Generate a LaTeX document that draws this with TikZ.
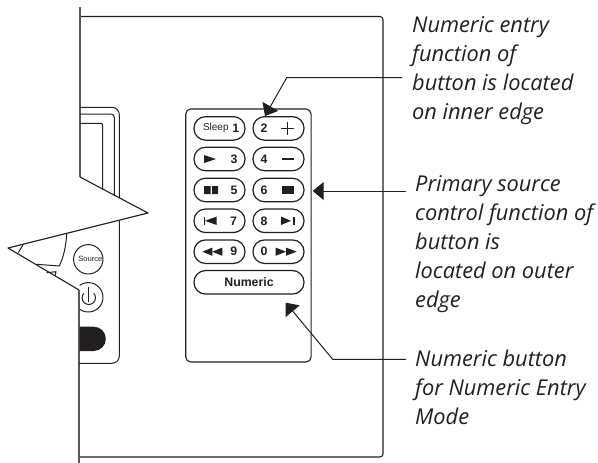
\documentclass[tikz,border=0pt]{standalone}
\usepackage{fontspec}
\setmainfont{Open Sans}
\newfontfamily\btnfont{Liberation Sans}
\usetikzlibrary{arrows.meta}
\definecolor{ink}{HTML}{231F20}
\tikzset{
  x=1pt,y=-1pt,
  panel/.style={draw=ink,line width=1.1pt},
  edgeline/.style={draw=ink!75,line width=1.5pt},
  btn/.style={draw=ink,line width=1.2pt,rounded corners=11.5pt,minimum height=23.5pt,minimum width=51pt,inner sep=0pt,anchor=center},
  btntext/.style={font=\btnfont\bfseries\fontsize{12.3}{12}\selectfont,text=ink,inner sep=0pt},
  icon/.style={fill=ink,draw=none},
  iconline/.style={draw=ink,line width=1.2pt},
  callout/.style={font=\itshape\fontsize{21.8}{29}\selectfont,text=ink,align=left,anchor=north west,inner sep=0pt},
  leader/.style={draw=ink,line width=1pt,-{Triangle[length=11pt,width=18pt]}},
}
\begin{document}
\begin{tikzpicture}[line join=round]
\useasboundingbox (0,0) rectangle (598,463);
% outer panel
\draw[panel] (80,16.5) -- (380,16.5) arc[start angle=-90,end angle=0,radius=3] -- (383,454) arc[start angle=0,end angle=90,radius=3] -- (79,457);
% folded edge
\draw[edgeline] (80,7) -- (80,177);
\draw[panel] (80,177) -- (148,213) -- (8,248) -- (79,290);
\draw[edgeline] (79,290) -- (79,463);
% device edges
\draw[panel,line width=1pt] (80,107.3) -- (112,107.3) arc[start angle=-90,end angle=0,radius=7.3] -- (119.3,198);
\draw[panel,line width=1pt] (80,114) -- (111,114) arc[start angle=-90,end angle=0,radius=3.3] -- (114.3,196);
\draw[panel,line width=1pt] (80,123.3) -- (100.7,123.3) arc[start angle=-90,end angle=0,radius=2] -- (102.7,189.3);
\draw[panel,line width=1pt] (119.3,220.7) -- (119.3,356) arc[start angle=0,end angle=90,radius=7.3] -- (79,363.3);
\draw[panel,line width=1pt] (66.7,233.3) .. controls (66,248) and (63,258) .. (59.3,266) -- (36.7,264.3);
\draw[panel,line width=1pt] (23.3,244.3) -- (18.3,252.7);
\draw[panel,line width=1pt] (46.7,272.7) -- (56,271.7) -- (55,276);
% source and power buttons
\node[draw=ink,line width=1pt,circle,minimum size=29.4pt,inner sep=0pt] (source) at (88.3,259.3) {};
\node[inner sep=0pt,font=\btnfont\fontsize{7.6}{8}\selectfont,text=ink] (sourcetext) at (90.3,259.3) {Source};
\begin{scope}
\clip (79.6,280) rectangle (110,315);
\node[draw=ink,line width=1pt,circle,minimum size=29.4pt,inner sep=0pt] (power) at (88.3,297.3) {};
\end{scope}
\draw[panel,line width=1pt] (88.3,287) -- (88.3,301.7);
\draw[panel,line width=1pt] (83.8,293.3) arc[start angle=222,end angle=-42,radius=6.7];
\fill[ink] (79.6,326.7) -- (93.7,326.7) arc[start angle=-90,end angle=90,radius=12.15] -- (79.6,351) -- cycle;
% remote
\node[draw=ink,line width=1.1pt,rounded corners=5pt,minimum width=125.3pt,minimum height=253pt,inner sep=0pt] (remote) at (248.4,235.5) {};
\node[btn] (b1) at (219.5,128.4) {};
\node[btn] (b2) at (278.5,128.4) {};
\node[btn] (b3) at (219.5,159) {};
\node[btn] (b4) at (278.5,159) {};
\node[btn] (b5) at (219.5,190) {};
\node[btn] (b6) at (278.5,190) {};
\node[btn] (b7) at (219.5,220.8) {};
\node[btn] (b8) at (278.5,220.8) {};
\node[btn] (b9) at (219.5,251.7) {};
\node[btn] (b0) at (278.5,251.7) {};
\node[btn,minimum width=110pt] (num) at (249,282.3) {};
% button labels
\node[btntext,font=\btnfont\fontsize{10}{10}\selectfont] (tsleep) at (215.8,128.4) {Sleep};
\node[btntext] (t1) at (235.7,128.4) {1};
\node[btntext] (t2) at (264,128.4) {2};
\node[btntext] (t3) at (234,159) {3};
\node[btntext] (t4) at (264,159) {4};
\node[btntext] (t5) at (234,190) {5};
\node[btntext] (t6) at (264,190) {6};
\node[btntext] (t7) at (233.5,220.8) {7};
\node[btntext] (t8) at (264,220.8) {8};
\node[btntext] (t9) at (233.7,251.7) {9};
\node[btntext] (t0) at (264,251.7) {0};
\node[btntext] (tnum) at (249,282) {Numeric};
% icons
\draw[iconline] (281,128.4) -- (294.4,128.4) (287.7,121.7) -- (287.7,135.1);
\fill[icon] (204,155) -- (216,159) -- (204,163) -- cycle;
\draw[iconline] (281.7,159) -- (294.3,159);
\fill[icon] (204,186) rectangle (210.7,194) (212,186) rectangle (218,194);
\fill[icon] (281.7,186) rectangle (294.3,194.3);
\draw[iconline] (204.3,216.5) -- (204.3,225);
\fill[icon] (205,220.8) -- (216.7,216.6) -- (216.7,225) -- cycle;
\fill[icon] (281,216.6) -- (291,220.8) -- (281,225) -- cycle;
\draw[iconline] (294,216.5) -- (294,225);
\fill[icon] (202.3,251.7) -- (212.3,247.6) -- (212.3,255.8) -- cycle;
\fill[icon] (212.3,251.7) -- (222.3,247.6) -- (222.3,255.8) -- cycle;
\fill[icon] (275.7,247.6) -- (286,251.7) -- (275.7,255.8) -- cycle;
\fill[icon] (286,247.6) -- (296.7,251.7) -- (286,255.8) -- cycle;
% callouts
\node[callout] (c1) at (412,16) {Numeric entry\\function of\\button is located\\on inner edge};
\node[callout] (c2) at (415,175) {Primary source\\control function of\\button is\\located on outer\\edge};
\node[callout] (c3) at (415,350) {Numeric button\\for Numeric Entry\\Mode};
% leaders
\coordinate (s1) at (402,77.7);
\coordinate (k1) at (286.7,77.7);
\coordinate (e1) at (265,116);
\coordinate (s2) at (406,191);
\coordinate (e2) at (312.7,191);
\coordinate (s3) at (406,359.3);
\coordinate (k3) at (332.7,359.3);
\coordinate (e3) at (285.7,302.7);
\draw[leader] (s1) -- (k1) -- (e1);
\draw[leader] (s2) -- (e2);
\draw[leader] (s3) -- (k3) -- (e3);
\end{tikzpicture}
\end{document}
